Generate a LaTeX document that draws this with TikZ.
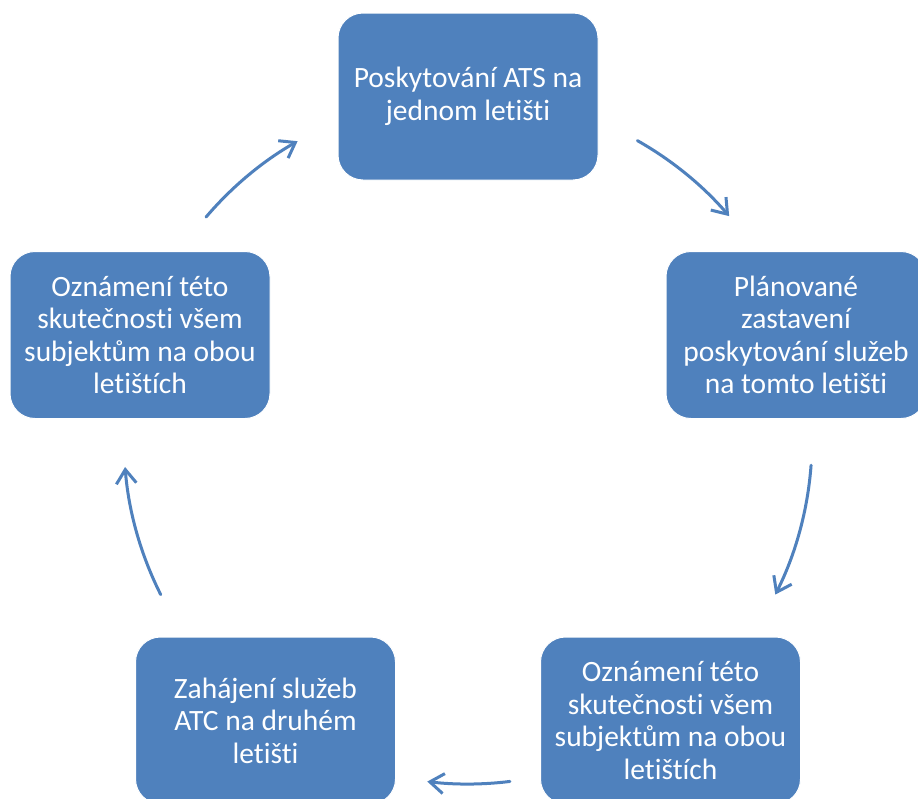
\documentclass[tikz,border=0pt]{standalone}
\usepackage{fontspec}
\setmainfont{Carlito}[Ligatures=NoCommon]
\usetikzlibrary{arrows.meta}
\definecolor{boxblue}{HTML}{4F81BD}
\begin{document}
\begin{tikzpicture}[x=1pt,y=1pt,
  stepbox/.style={fill=boxblue, draw=white, line width=1pt, rounded corners=25pt,
    minimum width=260pt, minimum height=167pt, text=white, align=center,
    font=\fontsize{29.5}{32.5}\selectfont, inner sep=0pt},
  cyc/.style={draw=boxblue, line width=3pt, line cap=round,
    -{Straight Barb[length=14pt,width=20pt]}}]
\useasboundingbox (0,0) rectangle (918,-798);
\clip (0,0) rectangle (918,-798);
\fill[white] (0,0) rectangle (918,-798);
\node[stepbox] (a) at (468,-96.5) {Poskytování ATS na\\jednom letišti};
\node[stepbox] (b) at (796,-335) {Plánované\\zastavení\\poskytování služeb\\na tomto letišti};
\node[stepbox] (c) at (670.5,-720.5) {Oznámení této\\skutečnosti všem\\subjektům na obou\\letištích};
\node[stepbox] (d) at (265.5,-720.5) {Zahájení služeb\\ATC na druhém\\letišti};
\node[stepbox] (e) at (140,-335) {Oznámení této\\skutečnosti všem\\subjektům na obou\\letištích};
\coordinate (o) at (468,-440);
\coordinate (ab) at ([shift={(60.5:344)}]o);
\coordinate (bc) at ([shift={(-4.2:344)}]o);
\coordinate (cd) at ([shift={(-83:344)}]o);
\coordinate (de) at ([shift={(-153.3:344)}]o);
\coordinate (ea) at ([shift={(139.6:344)}]o);
\draw[cyc] (ab) arc[start angle=60.5, end angle=40.6, radius=344];
\draw[cyc] (bc) arc[start angle=-4.2, end angle=-26.7, radius=344];
\draw[cyc] (cd) arc[start angle=-83, end angle=-96.8, radius=344];
\draw[cyc] (de) arc[start angle=-153.3, end angle=-175.5, radius=344];
\draw[cyc] (ea) arc[start angle=139.6, end angle=119.7, radius=344];
\end{tikzpicture}
\end{document}
